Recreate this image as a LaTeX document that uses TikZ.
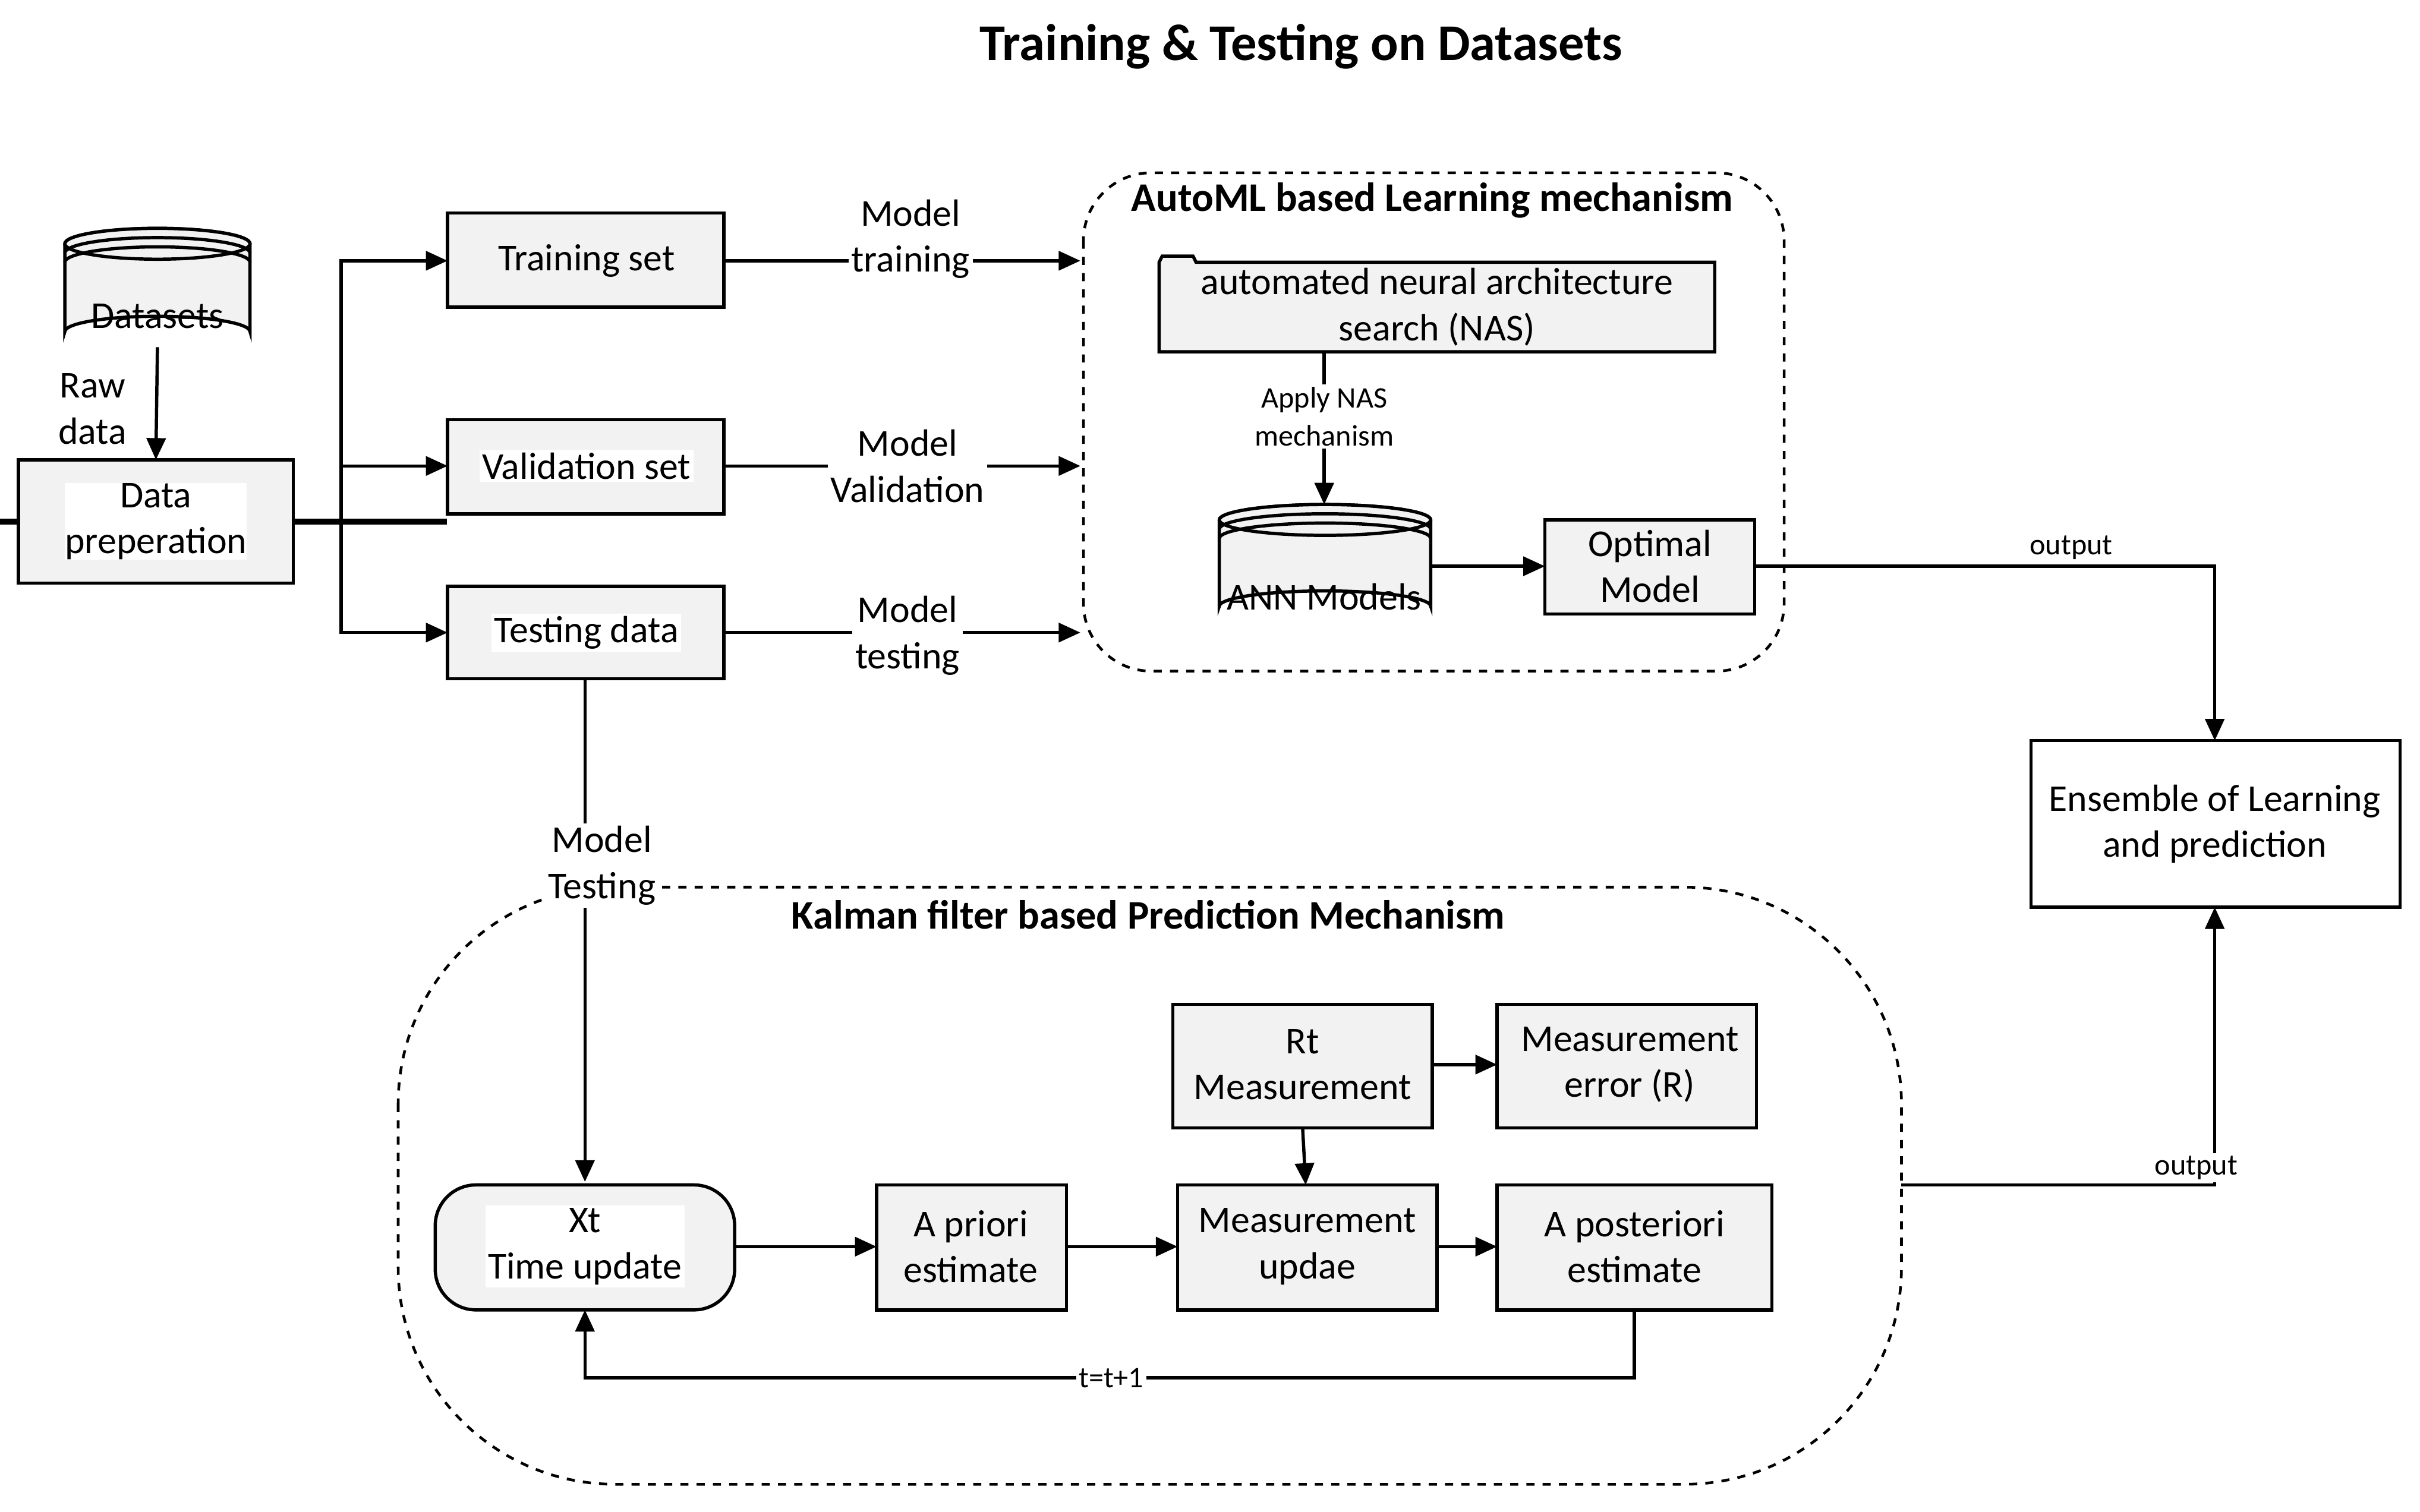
\documentclass[tikz,border=0pt]{standalone}
\usepackage{fontspec}
\setmainfont{Carlito}
\usetikzlibrary{arrows.meta,shapes.geometric}
\begin{document}
\begin{tikzpicture}[x=0.02cm,y=-0.02cm,
 box/.style={draw,line width=1.2pt,fill=gray!10,align=center,font=\fontsize{14}{17}\selectfont,inner sep=0pt},
 lbl/.style={align=center,font=\fontsize{14}{17}\selectfont,fill=white,inner sep=1pt},
 sl/.style={align=center,font=\fontsize{11}{14}\selectfont,fill=white,inner sep=1pt},
 ar/.style={line width=1.2pt,-{Triangle[length=8pt,width=7pt]}},
 ln/.style={line width=1.2pt}]
\useasboundingbox (0,0) rectangle (1568,980);
\node[font=\fontsize{19}{22}\selectfont\bfseries] (title) at (843,30) {Training \& Testing on Datasets};
% Datasets cylinder
\draw[line width=1.2pt,fill=gray!10] (42,158) -- (42,215) arc[start angle=180,end angle=360,x radius=60,y radius=10] -- (162,158) arc[start angle=0,end angle=-180,x radius=60,y radius=10];
\draw[line width=1.2pt,fill=gray!10] (102,158) ellipse[x radius=60,y radius=10];
\draw[line width=1.2pt] (42,164) arc[start angle=180,end angle=360,x radius=60,y radius=10];
\draw[line width=1.2pt] (42,170) arc[start angle=180,end angle=360,x radius=60,y radius=10];
\node[font=\fontsize{14}{17}\selectfont] (ds) at (102,205) {Datasets};
\coordinate (dsb) at (102,225);
\node[lbl] (raw) at (60,265) {Raw\\data};
\node[box,minimum width=178\pgflinewidth,text width=3cm] (prep) at (101,338) {};
\draw[box] (12,298) rectangle (190,378);
\node[box,draw=none,fill=white] (preptxt) at (101,338) {Data\\preperation};
\coordinate (prept) at (101,298);
\draw[ar] (dsb) -- (prept);
% sets
\draw[box] (290,138) rectangle (469,199); \node[font=\fontsize{14}{17}\selectfont] (train) at (380,169) {Training set};
\draw[box] (290,272) rectangle (469,333); \node[font=\fontsize{14}{17}\selectfont,fill=white,inner sep=1pt] (val) at (380,302) {Validation set};
\draw[box] (290,380) rectangle (469,440); \node[font=\fontsize{14}{17}\selectfont,fill=white,inner sep=1pt] (test) at (380,410) {Testing data};
\coordinate (br) at (221,338);
\draw[ln] (190,338) -- (br);
\draw[ar] (br) |- (290,169);
\draw[ar] (br) -- (221,302) -- (290,302);
\draw[ar] (br) |- (290,410);
\draw[ar] (469,169) -- (700,169);
\draw[ar] (469,302) -- (700,302);
\draw[ar] (469,410) -- (700,410);
\node[lbl] (mt) at (590,155) {Model\\training};
\node[lbl] (mv) at (588,302) {Model\\Validation};
\node[lbl] (mte) at (588,412) {Model\\testing};
% AutoML
\draw[dashed,line width=1pt,rounded corners=25] (702,112) rectangle (1156,435);
\node[font=\fontsize{15}{18}\selectfont\bfseries] (at) at (928,130) {AutoML based Learning mechanism};
\draw[box] (751,170) -- (751,228) -- (1111,228) -- (1111,170) -- (775,170) -- (773,166) -- (753,166) -- (751,170) -- cycle;
\node[font=\fontsize{14}{17}\selectfont,align=center] (nas) at (931,199) {automated neural architecture\\search (NAS)};
\draw[ar] (858,228) -- (858,327);
\node[sl] (apply) at (858,270) {Apply NAS\\mechanism};
% ANN cylinder
\draw[line width=1.2pt,fill=gray!10] (790,337) -- (790,393) arc[start angle=180,end angle=360,x radius=68.5,y radius=10] -- (927,337) arc[start angle=0,end angle=-180,x radius=68.5,y radius=10];
\draw[line width=1.2pt,fill=gray!10] (858.5,337) ellipse[x radius=68.5,y radius=10];
\draw[line width=1.2pt] (790,343) arc[start angle=180,end angle=360,x radius=68.5,y radius=10];
\draw[line width=1.2pt] (790,349) arc[start angle=180,end angle=360,x radius=68.5,y radius=10];
\node[font=\fontsize{14}{17}\selectfont] (ann) at (858,387) {ANN Models};
\draw[box] (1001,337) rectangle (1137,398); \node[font=\fontsize{14}{17}\selectfont,align=center] (opt) at (1069,367) {Optimal\\Model};
\draw[ar] (927,367) -- (1001,367);
% Ensemble
\draw[line width=1.2pt] (1316,480) rectangle (1555,588);
\node[font=\fontsize{14}{17}\selectfont,align=center] (ens) at (1435,534) {Ensemble of Learning\\and prediction};
\draw[ar] (1137,367) -- (1435,367) -- (1435,480);
\node[sl] (o1) at (1342,355) {output};
% Kalman
\draw[dashed,line width=1pt,rounded corners=80] (258,575) rectangle (1232,962);
\node[font=\fontsize{15}{18}\selectfont\bfseries] (kt) at (744,593) {Kalman filter based Prediction Mechanism};
\draw[ar] (379,440) -- (379,766);
\node[lbl] (mT) at (390,561) {Model\\Testing};
\draw[box,rounded corners=15] (282,768) rectangle (476,849);
\node[font=\fontsize{14}{17}\selectfont,align=center,fill=white,inner sep=1pt] (xt) at (379,808) {Xt\\Time update};
\draw[box] (568,768) rectangle (691,849); \node[font=\fontsize{14}{17}\selectfont,align=center] (pri) at (629,808) {A priori\\estimate};
\draw[box] (763,768) rectangle (931,849); \node[font=\fontsize{14}{17}\selectfont,align=center] (mu) at (847,808) {Measurement\\updae};
\draw[box] (970,768) rectangle (1148,849); \node[font=\fontsize{14}{17}\selectfont,align=center] (post) at (1059,808) {A posteriori\\estimate};
\draw[box] (760,651) rectangle (928,731); \node[font=\fontsize{14}{17}\selectfont,align=center] (rt) at (844,690) {Rt\\Measurement};
\draw[box] (970,651) rectangle (1138,731); \node[font=\fontsize{14}{17}\selectfont,align=center] (me) at (1056,690) {Measurement\\error (R)};
\draw[ar] (476,808) -- (568,808);
\draw[ar] (691,808) -- (763,808);
\draw[ar] (931,808) -- (970,808);
\draw[ar] (928,690) -- (970,690);
\draw[ar] (844,731) -- (846,768);
\draw[ar] (1059,849) -- (1059,893) -- (379,893) -- (379,849);
\node[sl] (tt) at (720,893) {t=t+1};
\draw[ar] (1232,768) -- (1435,768) -- (1435,588);
\node[sl] (o2) at (1423,757) {output};
\end{tikzpicture}
\end{document}
